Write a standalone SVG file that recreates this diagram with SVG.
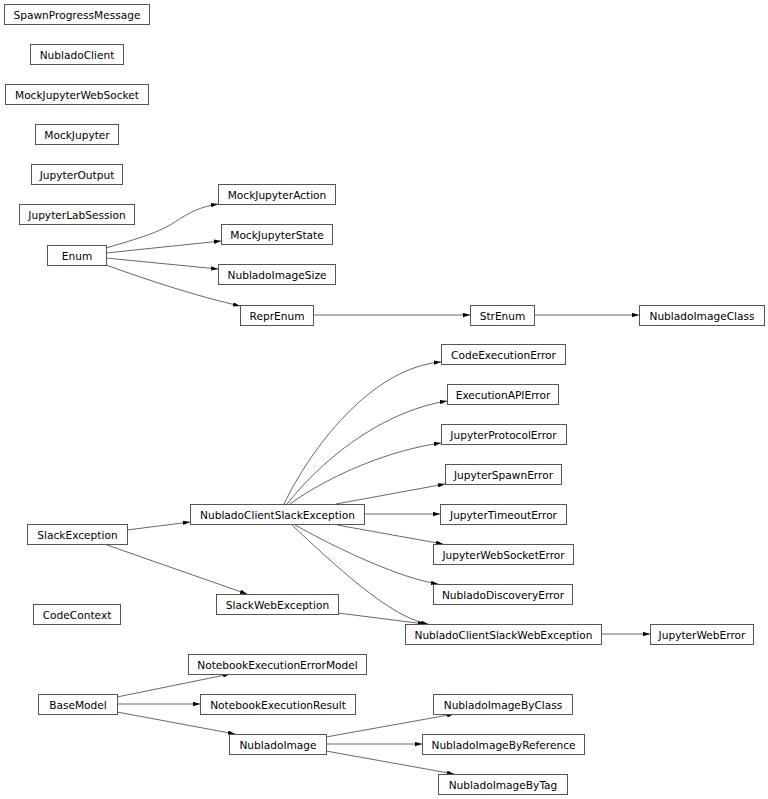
<svg xmlns="http://www.w3.org/2000/svg" width="768" height="799" viewBox="0 0 768 799">
<defs>
<marker id="ah" markerUnits="userSpaceOnUse" markerWidth="8" markerHeight="6" refX="7" refY="2.2" orient="auto">
<path d="M0,0 L7,2.2 L0,4.4 z" fill="#000"/>
</marker>
<style>
rect{fill:#fff;stroke:#555;stroke-width:1}
text{font-family:"DejaVu Sans","Liberation Sans",sans-serif;font-size:10.6px;fill:#000;text-anchor:middle}
#edges path{fill:none;stroke:#000;stroke-width:0.6;marker-end:url(#ah)}
</style>
</defs>
<rect x="0" y="0" width="768" height="799" style="fill:#fff;stroke:none"/>
<g id="edges">
<path d="M106,248 C140,238 160,232 175,222 C190,212 200,207 218,204"/>
<path d="M106,253 L221,241"/>
<path d="M106,258 L218,269"/>
<path d="M106,265 C150,281 200,297 240,306"/>
<path d="M313,315 L470,315"/>
<path d="M534,315 L639,315"/>
<path d="M284,504 C310,450 370,368 441,362"/>
<path d="M287,504 C330,450 390,410 447,401"/>
<path d="M290,504 C330,475 390,450 441,443"/>
<path d="M336,504 L445,484"/>
<path d="M364,514 L440,514"/>
<path d="M337,525 L443,544"/>
<path d="M295,525 C340,550 400,578 438,584"/>
<path d="M292,525 C350,580 395,618 428,624"/>
<path d="M127,530 L190,522"/>
<path d="M107,545 L247,594"/>
<path d="M338,613 L425,624"/>
<path d="M601,634 L650,634"/>
<path d="M117,697 L230,674"/>
<path d="M117,704 L200,704"/>
<path d="M117,712 L235,734"/>
<path d="M326,737 L454,714"/>
<path d="M326,744 L422,744"/>
<path d="M326,751 L454,774"/>
</g>
<g id="SpawnProgressMessage"><rect x="4.5" y="4.5" width="145" height="20"/><text x="77" y="18.5">SpawnProgressMessage</text></g>
<g id="NubladoClient"><rect x="30.5" y="44.5" width="93" height="20"/><text x="77" y="58.5">NubladoClient</text></g>
<g id="MockJupyterWebSocket"><rect x="5.5" y="84.5" width="143" height="20"/><text x="77" y="98.5">MockJupyterWebSocket</text></g>
<g id="MockJupyter"><rect x="35.5" y="124.5" width="83" height="20"/><text x="77" y="138.5">MockJupyter</text></g>
<g id="JupyterOutput"><rect x="31.5" y="164.5" width="91" height="20"/><text x="77" y="178.5">JupyterOutput</text></g>
<g id="JupyterLabSession"><rect x="19.5" y="204.5" width="115" height="20"/><text x="77" y="218.5">JupyterLabSession</text></g>
<g id="Enum"><rect x="47.5" y="245.5" width="59" height="20"/><text x="77" y="259.5">Enum</text></g>
<g id="MockJupyterAction"><rect x="218.5" y="184.5" width="117" height="20"/><text x="277" y="198.5">MockJupyterAction</text></g>
<g id="MockJupyterState"><rect x="221.5" y="224.5" width="111" height="20"/><text x="277" y="238.5">MockJupyterState</text></g>
<g id="NubladoImageSize"><rect x="218.5" y="264.5" width="117" height="20"/><text x="277" y="278.5">NubladoImageSize</text></g>
<g id="ReprEnum"><rect x="240.5" y="305.5" width="73" height="20"/><text x="277" y="319.5">ReprEnum</text></g>
<g id="StrEnum"><rect x="470.5" y="305.5" width="64" height="20"/><text x="502.5" y="319.5">StrEnum</text></g>
<g id="NubladoImageClass"><rect x="639.5" y="305.5" width="125" height="20"/><text x="702" y="319.5">NubladoImageClass</text></g>
<g id="CodeExecutionError"><rect x="441.5" y="344.5" width="124" height="20"/><text x="503.5" y="358.5">CodeExecutionError</text></g>
<g id="ExecutionAPIError"><rect x="447.5" y="384.5" width="111" height="20"/><text x="503" y="398.5">ExecutionAPIError</text></g>
<g id="JupyterProtocolError"><rect x="441.5" y="424.5" width="125" height="20"/><text x="503.5" y="438.5">JupyterProtocolError</text></g>
<g id="JupyterSpawnError"><rect x="445.5" y="464.5" width="116" height="20"/><text x="503.5" y="478.5">JupyterSpawnError</text></g>
<g id="JupyterTimeoutError"><rect x="440.5" y="504.5" width="126" height="20"/><text x="503.5" y="518.5">JupyterTimeoutError</text></g>
<g id="JupyterWebSocketError"><rect x="433.5" y="544.5" width="140" height="20"/><text x="503.5" y="558.5">JupyterWebSocketError</text></g>
<g id="NubladoDiscoveryError"><rect x="433.5" y="584.5" width="139" height="20"/><text x="503" y="598.5">NubladoDiscoveryError</text></g>
<g id="NubladoClientSlackWebException"><rect x="405.5" y="624.5" width="196" height="20"/><text x="503.5" y="638.5">NubladoClientSlackWebException</text></g>
<g id="JupyterWebError"><rect x="650.5" y="624.5" width="103" height="20"/><text x="702" y="638.5">JupyterWebError</text></g>
<g id="NubladoClientSlackException"><rect x="190.5" y="504.5" width="174" height="20"/><text x="277.5" y="518.5">NubladoClientSlackException</text></g>
<g id="SlackException"><rect x="27.5" y="524.5" width="100" height="20"/><text x="77.5" y="538.5">SlackException</text></g>
<g id="SlackWebException"><rect x="216.5" y="594.5" width="122" height="20"/><text x="277.5" y="608.5">SlackWebException</text></g>
<g id="CodeContext"><rect x="33.5" y="604.5" width="87" height="20"/><text x="77" y="618.5">CodeContext</text></g>
<g id="NotebookExecutionErrorModel"><rect x="188.5" y="654.5" width="178" height="20"/><text x="277.5" y="668.5">NotebookExecutionErrorModel</text></g>
<g id="BaseModel"><rect x="38.5" y="694.5" width="79" height="20"/><text x="78" y="708.5">BaseModel</text></g>
<g id="NotebookExecutionResult"><rect x="200.5" y="694.5" width="155" height="20"/><text x="278" y="708.5">NotebookExecutionResult</text></g>
<g id="NubladoImage"><rect x="229.5" y="734.5" width="97" height="20"/><text x="278" y="748.5">NubladoImage</text></g>
<g id="NubladoImageByClass"><rect x="433.5" y="694.5" width="139" height="20"/><text x="503" y="708.5">NubladoImageByClass</text></g>
<g id="NubladoImageByReference"><rect x="422.5" y="734.5" width="162" height="20"/><text x="503.5" y="748.5">NubladoImageByReference</text></g>
<g id="NubladoImageByTag"><rect x="438.5" y="774.5" width="129" height="20"/><text x="503" y="788.5">NubladoImageByTag</text></g>
</svg>
